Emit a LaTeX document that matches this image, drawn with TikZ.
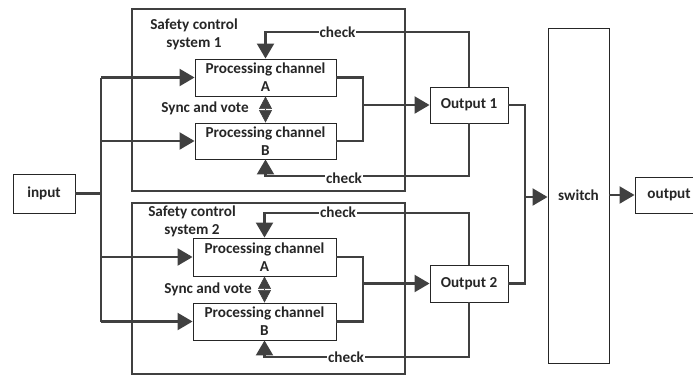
\documentclass[tikz,border=0pt]{standalone}
\usepackage{fontspec}
\setmainfont{Carlito}
\usetikzlibrary{arrows.meta}
\definecolor{lc}{HTML}{404040}
\definecolor{bc}{HTML}{262626}
\begin{document}
\begin{tikzpicture}[x=1pt,y=-1pt,
  txt/.style={font=\bfseries\fontsize{15.2}{18}\selectfont, text=bc},
  box/.style={txt, draw=bc, line width=0.9pt, fill=white, align=center, inner sep=0pt},
  sysbox/.style={draw=lc, line width=2pt},
  conn/.style={draw=lc, line width=2.2pt},
  arr/.style={-{Triangle[length=15pt,width=17pt]}},
  lbl/.style={txt, fill=white, inner sep=1pt},
  plain/.style={txt, align=center, inner sep=0pt}]
\useasboundingbox (0,0) rectangle (693,376);
\clip (0,0) rectangle (693,376);

% system frames
\draw[sysbox] (132,9) rectangle (405,191);
\draw[sysbox] (132,203) rectangle (405,374);
\node[plain] (s1) at (194,34) {Safety control\\system 1};
\node[plain] (s2) at (192,221) {Safety control\\system 2};

% boxes
\node[box, minimum width=62pt, minimum height=39pt] (in) at (44,193.5) {input};
\node[box, minimum width=141pt, minimum height=37pt] (a1) at (265.5,77.5) {Processing channel\\A};
\node[box, minimum width=141pt, minimum height=36pt] (b1) at (265.5,141) {Processing channel\\B};
\node[box, minimum width=143pt, minimum height=38pt] (a2) at (264.5,257) {Processing channel\\A};
\node[box, minimum width=143pt, minimum height=37pt] (b2) at (264.5,321.5) {Processing channel\\B};
\node[box, minimum width=78pt, minimum height=36pt] (o1) at (469,105) {Output 1};
\node[box, minimum width=78pt, minimum height=37pt] (o2) at (469,283.5) {Output 2};
\node[box, minimum width=61pt, minimum height=335pt] (sw) at (578.5,195.5) {switch};
\node[box, minimum width=90pt, minimum height=36pt] (out) at (680,195) {output\hspace*{22pt}};

% input bus
\coordinate (bus) at (101,0);
\draw[conn] (in.east) -- (in.east -| bus);
\draw[conn] (bus |- a1.west) -- (bus |- b2.west);
\foreach \n in {a1,b1,a2,b2}{
  \draw[conn,arr] (bus |- \n.west) -- (\n.west);
}

% channel outputs
\coordinate (m) at (363,0);
\draw[conn] (a1.east) -- (a1.east -| m) -- (b1.east -| m) -- (b1.east);
\draw[conn,arr] (o1.west -| m) -- (o1.west);
\draw[conn] (a2.east) -- (a2.east -| m) -- (b2.east -| m) -- (b2.east);
\draw[conn,arr] (o2.west -| m) -- (o2.west);

% check loops
\coordinate (c1t) at (0,32);
\coordinate (c1b) at (0,176);
\coordinate (c2t) at (0,213);
\coordinate (c2b) at (0,357);
\draw[conn,arr] (o1.north) -- (o1.north |- c1t) -- (a1.north |- c1t) -- (a1.north);
\draw[conn,arr] (o1.south) -- (o1.south |- c1b) -- (b1.south |- c1b) -- (b1.south);
\draw[conn,arr] (o2.north) -- (o2.north |- c2t) -- (a2.north |- c2t) -- (a2.north);
\draw[conn,arr] (o2.south) -- (o2.south |- c2b) -- (b2.south |- c2b) -- (b2.south);
\node[lbl] (k1) at (337.5,32) {check};
\node[lbl] (k2) at (344,178) {check};
\node[lbl] (k3) at (338,212) {check};
\node[lbl] (k4) at (346,357) {check};

% sync and vote
\draw[lc, line width=0.6pt, {Triangle[length=12.5pt,width=13pt]}-{Triangle[length=12.5pt,width=13pt]}] (a1.south) -- (b1.north);
\draw[lc, line width=0.6pt, {Triangle[length=12.5pt,width=13pt]}-{Triangle[length=12.5pt,width=13pt]}] (a2.south) -- (b2.north);
\node[plain] (v1) at (205,108) {Sync and vote};
\node[plain] (v2) at (208,289) {Sync and vote};

% to switch
\coordinate (j) at (525,197);
\draw[conn] (o1.east) -- (o1.east -| j) -- (j);
\draw[conn] (o2.east) -- (o2.east -| j) -- (j);
\draw[conn,arr] (j) -- (j -| sw.west);
\draw[conn,arr] (sw.east |- out.west) -- (out.west);
\end{tikzpicture}
\end{document}
